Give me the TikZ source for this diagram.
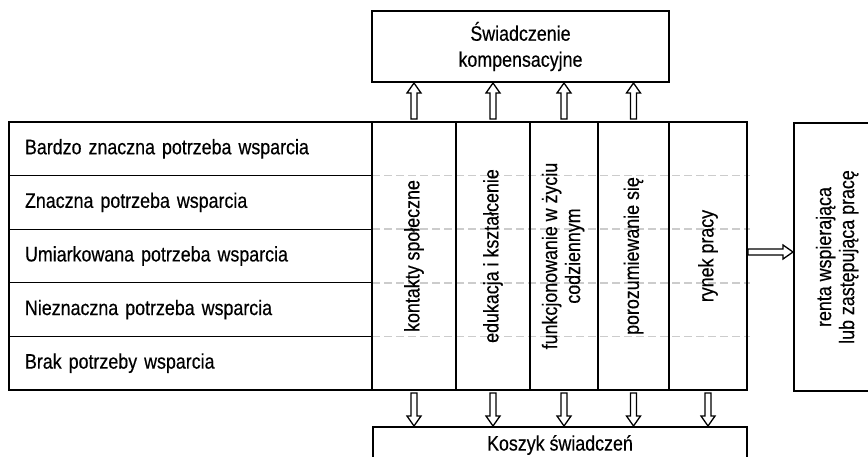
\documentclass[tikz,border=0pt]{standalone}
\usepackage{fontspec}
\setmainfont{Liberation Sans}[FakeStretch=0.85, FakeBold=0.4]
\usetikzlibrary{calc,positioning,backgrounds}

\tikzset{
  frame/.style={draw, line width=1.3pt, outer sep=0pt, inner sep=0pt},
  row/.style={frame, minimum width=363pt, minimum height=53.6pt, text width=331pt, align=left, inner xsep=16pt},
  col/.style={frame, minimum height=268pt, anchor=north west},
  grid/.style={black!20, line width=1.6pt, dash pattern=on 8pt off 4pt},
  hollow/.style={draw, fill=white, line width=1.3pt, miter limit=4, to path={
    let \p1=(\tikztostart), \p2=(\tikztotarget), \p3=($(\p2)!10pt!(\p1)$) in
    ($(\p1)!3pt!90:(\p2)$) -- ($(\p3)!3pt!-90:(\p1)$) -- ($(\p3)!7pt!-90:(\p1)$) -- (\p2)
    -- ($(\p3)!7pt!90:(\p1)$) -- ($(\p3)!3pt!90:(\p1)$) -- ($(\p1)!3pt!-90:(\p2)$) -- cycle}}
}

\begin{document}
\begin{tikzpicture}[x=1pt, y=-1pt, font=\fontsize{21}{23}\selectfont]
\path[use as bounding box, clip] (0,0) rectangle (868,456);

% poziomy potrzeby wsparcia
\node[row, anchor=north west] (r1) at (9,122) {Bardzo znaczna potrzeba wsparcia};
\node[row, below=0pt of r1] (r2) {Znaczna potrzeba wsparcia};
\node[row, below=0pt of r2] (r3) {Umiarkowana potrzeba wsparcia};
\node[row, below=0pt of r3] (r4) {Nieznaczna potrzeba wsparcia};
\node[row, below=0pt of r4] (r5) {Brak potrzeby wsparcia};

% obszary
\node[col, minimum width=84pt] (c1) at (372,122) {\rotatebox{90}{kontakty społeczne}};
\node[col, minimum width=74pt, right=0pt of c1] (c2) {\rotatebox{90}{edukacja i kształcenie}};
\node[col, minimum width=68pt, right=0pt of c2] (c3) {\rotatebox{90}{\begin{tabular}{@{}c@{}}funkcjonowanie w życiu\\codziennym\end{tabular}}};
\node[col, minimum width=71pt, right=0pt of c3] (c4) {\rotatebox{90}{porozumiewanie się}};
\node[col, minimum width=78pt, right=0pt of c4] (c5) {\rotatebox{90}{rynek pracy}};

\begin{scope}[on background layer]
  \foreach \i in {1,...,4}
    \draw[grid] (r\i.south east) -- ([xshift=3pt]r\i.south -| c5.east);
\end{scope}

% swiadczenia
\node[frame, minimum width=297pt, minimum height=71pt, anchor=north west, align=center,
      font=\fontsize{21}{26}\selectfont] (swiad) at (372,11) {Świadczenie\\kompensacyjne};
\node[frame, minimum width=374pt, minimum height=36pt, anchor=north west] (koszyk) at (373,427) {Koszyk świadczeń};
\node[frame, minimum width=88pt, minimum height=268pt, anchor=north west] (renta) at (794,123)
  {\rotatebox{90}{\begin{tabular}{@{}c@{}}renta wspierająca\\lub zastępująca pracę\end{tabular}}};

% strzalki
\foreach \i in {1,...,4}
  \path[hollow] ([yshift=3pt]c\i.north) to ([yshift=-1pt]c\i.north |- swiad.south);
\foreach \i in {1,...,5}
  \path[hollow] ([yshift=-3pt]c\i.south) to ([yshift=1pt]c\i.south |- koszyk.north);
\path[hollow] ([yshift=4pt,xshift=1pt]c5.east) to ([yshift=4pt,xshift=-1pt]c5.east -| renta.west);
\end{tikzpicture}
\end{document}
